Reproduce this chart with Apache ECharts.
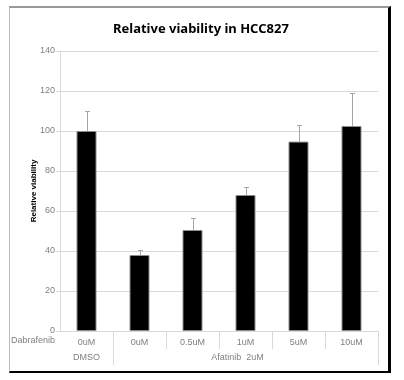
<!DOCTYPE html>
<html>
<head>
<meta charset="utf-8">
<script src="https://cdn.jsdelivr.net/npm/echarts@6/dist/echarts.min.js"></script>
<style>
html,body{margin:0;padding:0;background:#fff;}
#chart{position:absolute;left:0;top:0;width:404px;height:380px;}
#frame{position:absolute;left:9px;top:6px;width:378px;height:363px;border-top:2px solid #999;border-left:1px solid #bbb;border-right:3px solid #000;border-bottom:2px solid #000;pointer-events:none;}
</style>
</head>
<body>
<div id="chart"></div>
<div id="frame"></div>
<script>
// Data
const categories = ['0uM', '0uM', '0.5uM', '1uM', '5uM', '10uM'];
const values = [100, 38, 50.5, 68, 94.7, 102.5];
const errors = [10, 2.5, 5.8, 3.8, 8.1, 16.3];
const groupLabels = ['DMSO', 'Afatinib  2uM'];
const groupLabelPos = [0.5, 3.35];
const groupBoundaries = [1, 6];
const rowHeader = 'Dabrafenib';
const yMin = 0, yMax = 140, yStep = 20;

const chart = echarts.init(document.getElementById('chart'), null, {renderer: 'canvas'});
const labelFont = 'Liberation Sans, Arial, sans-serif';
const gridColor = '#d9d9d9';

const errData = values.map((v, i) => [i, v, errors[i]]);

chart.setOption({
  animation: false,
  backgroundColor: 'transparent',
  title: {
    text: 'Relative viability in HCC827',
    left: 108, top: 18,
    textStyle: {fontFamily: 'Noto Sans, sans-serif', fontWeight: 'bold', fontSize: 13, color: '#000'}
  },
  grid: {left: 60, right: 26, top: 51, bottom: 49, containLabel: false},
  xAxis: [{
    type: 'category',
    data: categories,
    boundaryGap: true,
    name: rowHeader,
    nameLocation: 'start',
    nameGap: 5,
    nameMoveOverlap: false,
    nameTextStyle: {fontFamily: labelFont, fontSize: 9, color: '#808080', align: 'right', verticalAlign: 'top', padding: [5, 0, 0, 0]},
    axisLine: {show: true, lineStyle: {color: gridColor, width: 1}},
    axisTick: {show: true, length: 18, interval: (i) => i > 0, lineStyle: {color: gridColor}},
    axisLabel: {interval: 0, margin: 7, fontFamily: labelFont, fontSize: 9, color: '#808080'},
    splitLine: {show: false}
  }, {
    type: 'value',
    min: 0, max: 6,
    position: 'bottom',
    axisLine: {show: false},
    splitLine: {show: false},
    axisTick: {show: true, length: 34, customValues: groupBoundaries, lineStyle: {color: gridColor}},
    axisLabel: {
      show: true, margin: 22, customValues: groupLabelPos,
      fontFamily: labelFont, fontSize: 9, color: '#808080',
      formatter: (v) => groupLabels[groupLabelPos.indexOf(v)] || ''
    }
  }],
  yAxis: {
    type: 'value',
    min: yMin, max: yMax, interval: yStep,
    name: 'Relative viability',
    nameLocation: 'middle',
    nameGap: 22,
    nameMoveOverlap: false,
    nameTextStyle: {fontFamily: labelFont, fontSize: 8, fontWeight: 'bold', color: '#000'},
    axisLine: {show: true, lineStyle: {color: gridColor}},
    axisTick: {show: true, length: 4, lineStyle: {color: gridColor}},
    axisLabel: {margin: 5, fontFamily: labelFont, fontSize: 9, color: '#808080'},
    splitLine: {show: true, lineStyle: {color: gridColor, width: 1}}
  },
  series: [{
    type: 'bar',
    data: values,
    barWidth: 20,
    itemStyle: {color: '#000', borderColor: '#8c8c8c', borderWidth: 1}
  }, {
    type: 'custom',
    data: errData,
    z: 3,
    renderItem: function (params, api) {
      const x = api.value(0), v = api.value(1), e = api.value(2);
      const base = api.coord([x, v]);
      const top = api.coord([x, v + e]);
      const cx = Math.round(base[0]) + 0.5;
      const ty = Math.round(top[1]) + 0.5;
      const style = {stroke: '#a6a6a6', lineWidth: 1};
      return {type: 'group', children: [
        {type: 'line', shape: {x1: cx, y1: base[1], x2: cx, y2: ty}, style: style},
        {type: 'line', shape: {x1: cx - 2.5, y1: ty, x2: cx + 2.5, y2: ty}, style: style}
      ]};
    }
  }]
});
</script>
</body>
</html>
